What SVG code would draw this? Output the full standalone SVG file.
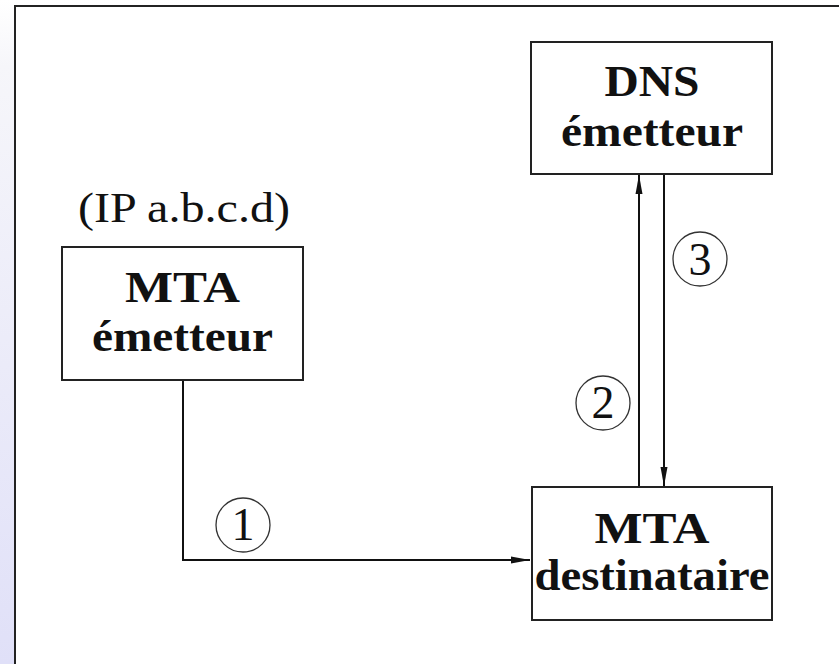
<svg xmlns="http://www.w3.org/2000/svg" width="839" height="664" viewBox="0 0 839 664">
  <defs>
    <linearGradient id="side" x1="0" y1="0" x2="0" y2="1">
      <stop offset="0" stop-color="#ffffff"/>
      <stop offset="0.1" stop-color="#f6f6fa"/>
      <stop offset="1" stop-color="#e0e0f8"/>
    </linearGradient>
    <marker id="arrow" markerUnits="userSpaceOnUse" markerWidth="20" markerHeight="10" refX="19" refY="5" orient="auto">
      <path d="M0,1.5 L19,5 L0,8.5 Z" fill="#111"/>
    </marker>
    <style>
      .box { fill: #fff; stroke: #222; stroke-width: 2; }
      .lbl { font-family: "Liberation Serif", "Times New Roman", serif; font-weight: bold; font-size: 44px; fill: #111; text-anchor: middle; }
      .note { font-family: "Liberation Serif", "Times New Roman", serif; font-size: 42px; fill: #111; }
      .num { font-family: "Liberation Serif", "Times New Roman", serif; font-size: 46px; fill: #111; text-anchor: middle; }
      .ring { fill: none; stroke: #333; stroke-width: 1.3; }
      .wire { fill: none; stroke: #111; stroke-width: 2; }
    </style>
  </defs>

  <!-- page background and frame -->
  <rect x="0" y="0" width="839" height="664" fill="url(#side)"/>
  <rect x="15" y="6" width="840" height="680" fill="#fff" stroke="#222" stroke-width="2"/>

  <!-- connectors -->
  <g id="connectors">
    <path class="wire" d="M183,380 V560 H530" marker-end="url(#arrow)"/>
    <path class="wire" d="M639,487 V175" marker-end="url(#arrow)"/>
    <path class="wire" d="M664,174 V486" marker-end="url(#arrow)"/>
    <g id="step1">
      <circle class="ring" cx="243" cy="525" r="27"/>
      <text class="num" x="243" y="540">1</text>
    </g>
    <g id="step2">
      <circle class="ring" cx="603" cy="403" r="27"/>
      <text class="num" x="603" y="418">2</text>
    </g>
    <g id="step3">
      <circle class="ring" cx="700" cy="259" r="27"/>
      <text class="num" x="700" y="275">3</text>
    </g>
  </g>

  <!-- sending MTA -->
  <g id="mta-emetteur">
    <text class="note" x="78" y="222" textLength="212" lengthAdjust="spacingAndGlyphs">(IP a.b.c.d)</text>
    <rect class="box" x="62" y="247" width="241" height="133"/>
    <text class="lbl" x="182.5" y="302" textLength="115" lengthAdjust="spacingAndGlyphs">MTA</text>
    <text class="lbl" x="182.5" y="351" textLength="181" lengthAdjust="spacingAndGlyphs">émetteur</text>
  </g>

  <!-- sender DNS -->
  <g id="dns-emetteur">
    <rect class="box" x="531" y="42" width="241" height="132"/>
    <text class="lbl" x="652" y="96" textLength="95" lengthAdjust="spacingAndGlyphs">DNS</text>
    <text class="lbl" x="652" y="146" textLength="182" lengthAdjust="spacingAndGlyphs">émetteur</text>
  </g>

  <!-- receiving MTA -->
  <g id="mta-destinataire">
    <rect class="box" x="532" y="487" width="240" height="133"/>
    <text class="lbl" x="652" y="543" textLength="115" lengthAdjust="spacingAndGlyphs">MTA</text>
    <text class="lbl" x="652" y="590" textLength="235" lengthAdjust="spacingAndGlyphs">destinataire</text>
  </g>
</svg>
